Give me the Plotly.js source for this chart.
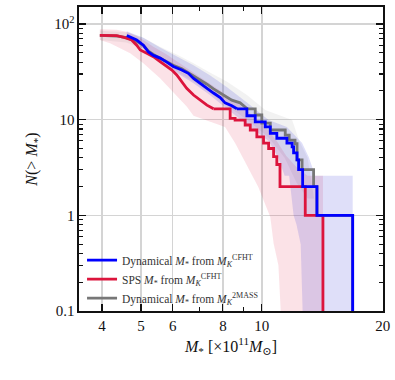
<!DOCTYPE html>
<html>
<head>
<meta charset="utf-8">
<script src="https://cdn.plot.ly/plotly-3.0.1.min.js"></script>
<style>html,body{margin:0;padding:0;background:#fff}#chart{width:395px;height:380px}</style>
</head>
<body>
<div id="chart"></div>
<script>
// ---- data (M* in 1e11 Msun, N(>M*)) ----
// upper (dense) part of each curve is drawn as a smooth line, lower part as steps
const blueM = [4.61,4.88,5.07,5.22,5.37,5.58,5.80,6.02,6.32,6.56,6.76,7.02,7.30,7.58,7.88,8.10,8.42,8.67,9.18,9.63,10.2,10.5,10.9,11.55,11.9,12.0,12.24,12.35,12.64,13.72,16.84];
const blueN = [76,68,60,51,47,44,40,36,33,30.5,27,24,21,19,17,15,14,13,11,9.5,8.4,7.2,6.4,5.7,5.2,4.5,3.8,3,2,1,0.05];
const blueStepFrom = 17;

const redM = [3.95,4.35,4.56,4.74,4.88,4.98,5.17,5.37,5.58,5.80,5.97,6.14,6.32,6.50,6.76,7.02,7.30,7.58,8.34,8.58,9.09,9.36,9.72,10.1,10.4,10.7,10.9,11.1,12.83,14.2];
const redN = [76,75.5,72,68,60,53.5,49.4,45.5,40.4,35.8,33,29.3,24.9,21.3,18.1,16.1,14.2,13,10.3,9.9,8.8,7.8,6.6,5.7,5,4.1,3.4,2,1,0.05];
const redStepFrom = 17;

const grayM = [3.95,4.35,4.6,4.88,5.07,5.22,5.37,5.58,5.80,6.02,6.32,6.56,6.76,7.02,7.30,7.58,7.88,8.10,8.42,8.83,9.2,9.63,10.0,10.5,11.44,11.7,12.1,12.24,12.6,13.46,13.72,16.84];
const grayN = [76,75,72,66,60,52,48,44,40,37,34,31,29,26,23.5,21,19,17.5,16,15,13,11.2,9.2,7.8,6.9,6.1,5.6,3.8,3,2,1,0.05];
const grayStepFrom = 20;

// confidence bands (lower-left edge and upper-right edge)
const redBandLoM = [3.95,4.19,4.70,5.07,5.58,6.14,6.50,6.76,7.5,8.10,8.58,9.25,9.80,10.5,10.7,11.0,11.24];
const redBandLoN = [68,62.9,49.4,38.8,27.1,17.4,13.7,11,9.5,8.4,5.7,3.2,1.98,0.96,0.51,0.3,0.05];
const redBandHiM = [3.95,4.35,4.6,4.88,5.07,5.37,5.8,6.3,6.8,7.3,7.9,8.6,9.4,10.2,10.9,11.5,12.2,13.0,14.2,14.2];
const redBandHiN = [88,87,83,75,68,58,48,38,31,25,20,15.5,11.5,8.5,6,4.2,3.2,2.6,2.6,0.05];

const blueBandLoM = [4.61,5.07,5.58,6.14,6.76,7.44,8.18,9.2,10.4,11.0,11.4,11.7,12.0,12.2,12.5,12.7];
const blueBandLoN = [70,55,41,31,24,18,13,9,6,4,2.6,2.6,1,0.8,0.5,0.05];
const blueBandHiM = [4.61,5.07,5.58,6.14,6.76,7.44,8.18,9.2,10.4,11.55,12.6,13.08,13.59,16.84,16.84];
const blueBandHiN = [84,72,57,46,37,29,22,15,9.9,8.4,5.7,4.1,2.6,2.6,0.05];

const grayBandLoM = [3.95,4.6,5.07,5.58,6.14,6.76,7.44,8.18,9.2,10.4,11.4,12.2,13.0];
const grayBandLoN = [68,64,55,41,32,25,19,14,10,6.5,4,2.2,1.5];
const grayBandHiM = [3.95,4.6,5.07,5.58,6.14,6.76,7.44,8.18,9.2,10.2,11.9,12.4,13.0,13.5];
const grayBandHiN = [85,82,72,58,48,39,31,25,18,12.6,9.9,6,4,1.5];

const xTickVals = [4,5,6,8,10,20];
const xTickText = ['4','5','6','8','10','20'];
const xMinorVals = [7,9];
const yTickVals = [0.1,1,10,100];
const yTickText = ['0.1','1','10','10<sup>2</sup>'];
const yMinorVals = [0.2,0.3,0.4,0.5,0.6,0.7,0.8,0.9,2,3,4,5,6,7,8,9,20,30,40,50,60,70,80,90];

const seriesNames = [
  'Dynamical <i>M</i><sub>*</sub> from <i>M</i><sub><i>K</i></sub><sup>CFHT</sup>',
  'SPS <i>M</i><sub>*</sub> from <i>M</i><sub><i>K</i></sub><sup>CFHT</sup>',
  'Dynamical <i>M</i><sub>*</sub> from <i>M</i><sub><i>K</i></sub><sup>2MASS</sup>'
];

function band(loM, loN, hiM, hiN, color) {
  return [
    {x: loM, y: loN, type: 'scatter', mode: 'lines', line: {width: 0}, showlegend: false, hoverinfo: 'skip'},
    {x: hiM, y: hiN, type: 'scatter', mode: 'lines', line: {width: 0}, fill: 'tonexty', fillcolor: color, showlegend: false, hoverinfo: 'skip'}
  ];
}

function curve(M, N, k, name, color, rank, group) {
  return [
    {x: M.slice(0, k + 1), y: N.slice(0, k + 1), name: name, legendgroup: group, legendrank: rank, type: 'scatter', mode: 'lines',
     line: {color: color, width: 2.8, shape: 'linear'}},
    {x: M.slice(k), y: N.slice(k), name: name, legendgroup: group, showlegend: false, type: 'scatter', mode: 'lines',
     line: {color: color, width: 2.8, shape: 'hv'}}
  ];
}

const traces = [
  ...band(grayBandLoM, grayBandLoN, grayBandHiM, grayBandHiN, 'rgba(128,128,128,0.10)'),
  ...band(redBandLoM, redBandLoN, redBandHiM, redBandHiN, 'rgba(220,20,60,0.12)'),
  ...band(blueBandLoM, blueBandLoN, blueBandHiM, blueBandHiN, 'rgba(30,30,210,0.14)'),
  ...curve(grayM, grayN, grayStepFrom, seriesNames[2], '#777777', 3, 'g'),
  ...curve(redM, redN, redStepFrom, seriesNames[1], '#dc143c', 2, 'r'),
  ...curve(blueM, blueN, blueStepFrom, seriesNames[0], '#0000ff', 1, 'b')
];

const font = 'Liberation Serif, DejaVu Serif, serif';
const layout = {
  width: 395, height: 380,
  margin: {l: 79, r: 12, t: 7, b: 69},
  paper_bgcolor: '#fff', plot_bgcolor: '#fff',
  font: {family: font, color: '#111', size: 15},
  showlegend: true,
  legend: {x: 0.01, y: 0.215, xanchor: 'left', yanchor: 'top', bgcolor: 'rgba(0,0,0,0)', borderwidth: 0,
           traceorder: 'normal', font: {family: font, size: 11.5, color: '#333'}, itemwidth: 30, tracegroupgap: 0},
  xaxis: {
    type: 'log', range: [Math.log10(3.505), Math.log10(20.04)],
    tickmode: 'array', tickvals: xTickVals, ticktext: xTickText,
    ticks: 'inside', ticklen: 7, tickwidth: 1.2, tickcolor: '#111',
    showline: true, linecolor: '#111', linewidth: 1.6, mirror: 'ticks',
    showgrid: true, gridcolor: '#d4d4d4', gridwidth: 1.5, zeroline: false,
    minor: {tickmode: 'array', tickvals: xMinorVals, ticks: 'inside', ticklen: 4, tickwidth: 1.1, tickcolor: '#111', showgrid: false},
    tickfont: {size: 15, family: font},
    title: {text: '<i>M</i><sub>*</sub> [×10<sup>11</sup><i>M</i><sub>⊙</sub>]', font: {size: 16, family: font}, standoff: 8}
  },
  yaxis: {
    type: 'log', range: [-1, 2.178],
    tickmode: 'array', tickvals: yTickVals, ticktext: yTickText,
    ticks: 'inside', ticklen: 7, tickwidth: 1.2, tickcolor: '#111',
    showline: true, linecolor: '#111', linewidth: 1.6, mirror: 'ticks',
    showgrid: true, gridcolor: '#d4d4d4', gridwidth: 1.5, zeroline: false,
    minor: {tickmode: 'array', tickvals: yMinorVals, ticks: 'inside', ticklen: 4, tickwidth: 1.1, tickcolor: '#111', showgrid: false},
    tickfont: {size: 15, family: font},
    title: {text: '<i>N</i>(> <i>M</i><sub>*</sub>)', font: {size: 16, family: font}, standoff: 12}
  }
};

Plotly.newPlot('chart', traces, layout, {staticPlot: true, displayModeBar: false});
</script>
</body>
</html>
